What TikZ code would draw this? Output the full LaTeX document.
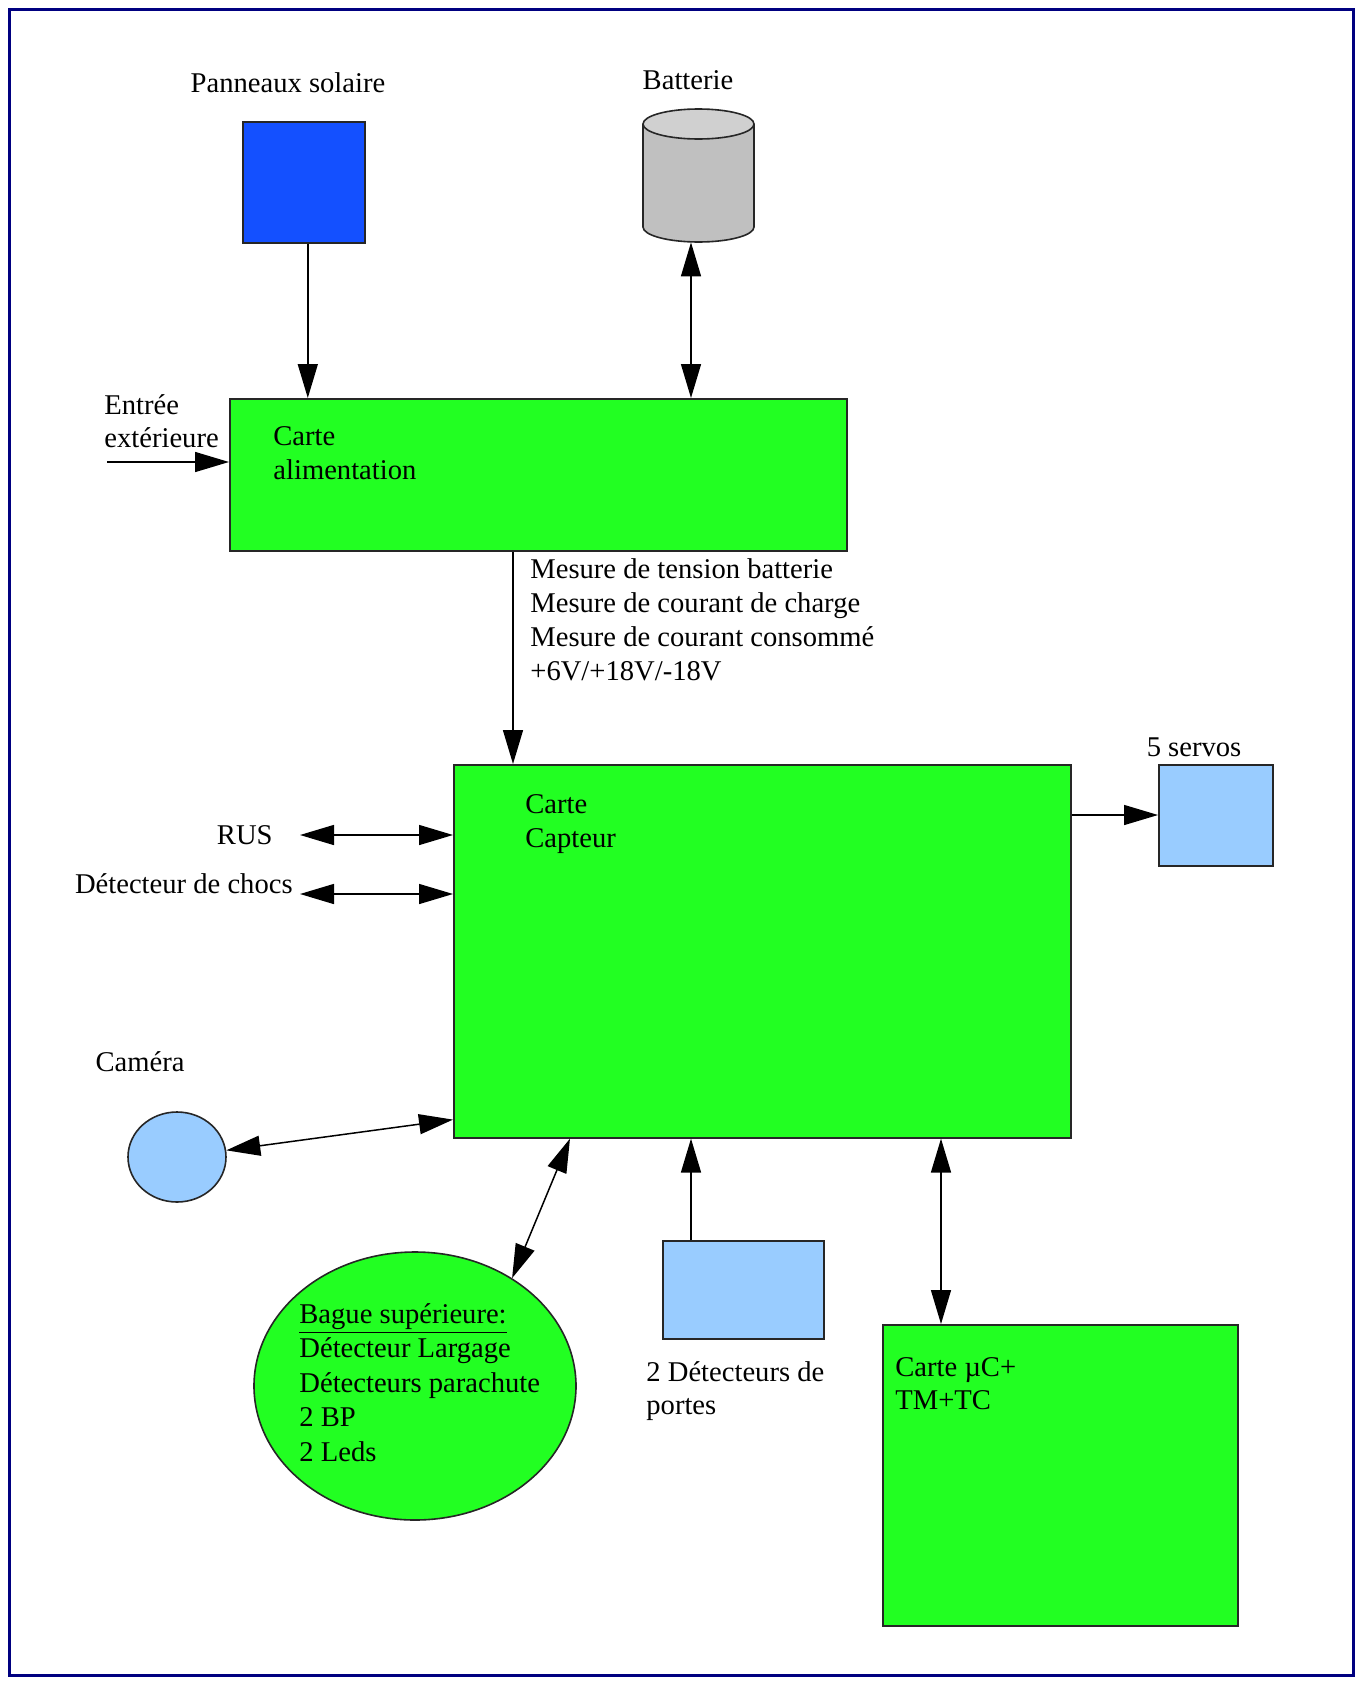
\documentclass[tikz,border=0pt]{standalone}
\usepackage{fontspec}
\setmainfont{Liberation Serif}
\usetikzlibrary{arrows.meta,shapes.geometric}
\definecolor{framenavy}{RGB}{0,0,128}
\definecolor{boardgreen}{RGB}{34,255,34}
\definecolor{panelblue}{RGB}{20,80,255}
\definecolor{paleblue}{RGB}{153,204,255}
\definecolor{cellgray}{RGB}{192,192,192}
\definecolor{celltop}{RGB}{208,208,208}

\begin{document}
\begin{tikzpicture}[x=0.5pt,y=-0.5pt,
  font=\fontsize{14.3}{17}\selectfont,
  board/.style={draw=black!85, line width=0.8pt, fill=boardgreen, inner sep=0, anchor=north west},
  part/.style={draw=black!85, line width=0.8pt, fill=paleblue, inner sep=0, anchor=north west},
  lbl/.style={inner sep=0, align=left},
  block/.style={inner sep=0, align=left, anchor=north west},
  tip/.style={line width=0.75pt, -{Triangle[length=17pt,width=10pt]}},
  bi/.style={line width=0.75pt, {Triangle[length=17pt,width=10pt]}-{Triangle[length=17pt,width=10pt]}},
]
\useasboundingbox (0,0) rectangle (1356,1681);
\fill[white] (0,0) rectangle (1356,1681);
\draw[framenavy, line width=1.5pt] (9,9) rectangle (1353,1675);

% sources: solar panel and battery
\node[lbl] (panlbl) at (288,83) {Panneaux solaire};
\node[board, fill=panelblue, minimum width=61pt, minimum height=60.5pt] (panel) at (242,121) {};

\node[lbl] (battlbl) at (688,80) {Batterie};
\draw[line width=0.8pt, draw=black!85, fill=cellgray] (643,124) -- (643,227)
  arc[start angle=180, end angle=360, x radius=27.75pt, y radius=7.5pt] -- (754,124);
\draw[line width=0.8pt, draw=black!85, fill=celltop] (698.5,124) ellipse[x radius=27.75pt, y radius=7.5pt];
\node[inner sep=0, minimum width=55.5pt, minimum height=66.5pt] (batt) at (698.5,175.5) {};

% power board
\node[board, minimum width=308.5pt, minimum height=76pt] (alim) at (229,398) {};
\node[block] (alimtxt) at (273,426) {Carte\\alimentation};
\node[block, font=\fontsize{14.3}{16.5}\selectfont] (extlbl) at (104,394) {Entrée\\extérieure};
\coordinate (ext) at (107,462);

% sensor board
\node[board, minimum width=308.5pt, minimum height=186.5pt] (capteur) at (453,764) {};
\node[block] (captxt) at (525,794) {Carte\\Capteur};
\node[block] (mesures) at (530,558) {Mesure de tension batterie\\Mesure de courant de charge\\Mesure de courant consommé\\+6V/+18V/-18V};

% servos
\node[lbl] (servolbl) at (1194,747) {5 servos};
\node[part, minimum width=57pt, minimum height=50.5pt] (servos) at (1158,764) {};

% side links
\node[lbl, anchor=east] (rus) at (273,835) {RUS};
\coordinate (rusin) at (300,835);
\node[lbl, anchor=east] (chocs) at (293,884) {Détecteur de chocs};
\coordinate (chocsin) at (300,894);

% camera
\node[lbl] (camlbl) at (140,1062) {Caméra};
\node[ellipse, draw=black!85, line width=0.8pt, fill=paleblue, inner sep=0,
      minimum width=49pt, minimum height=45pt] (cam) at (177,1157) {};

% upper ring
\node[ellipse, draw=black!85, line width=0.8pt, fill=boardgreen, inner sep=0,
      minimum width=161pt, minimum height=134pt] (bague) at (415,1386) {};
\node[block, font=\fontsize{14.3}{17.25}\selectfont] (baguetxt) at (299,1303)
  {\underline{Bague supérieure:}\\Détecteur Largage\\Détecteurs parachute\\2 BP\\2 Leds};

% door detectors
\node[part, minimum width=80.5pt, minimum height=49pt] (portes) at (662,1240) {};
\node[block, font=\fontsize{14.3}{16.5}\selectfont] (porteslbl) at (646,1361) {2 Détecteurs de\\portes};

% microcontroller board
\node[board, minimum width=177.5pt, minimum height=150.5pt] (uc) at (882,1324) {};
\node[block, font=\fontsize{14.3}{16.5}\selectfont] (uctxt) at (895,1357) {Carte µC+\\TM+TC};

% connectors
\draw[tip] ([xshift=2pt]panel.south) -- ([xshift=2pt]panel.south |- alim.north);
\draw[bi] ([xshift=-3.75pt]batt.south) -- ([xshift=-3.75pt]batt.south |- alim.north);
\draw[tip] (ext) -- (ext -| alim.west);
\draw[tip] ([xshift=142pt]alim.south west) -- ([xshift=142pt]alim.south west |- capteur.north);
\draw[tip] ([yshift=-25.5pt]capteur.north east) -- ([yshift=-25.5pt]capteur.north east -| servos.west);
\draw[bi] (rusin) -- (rusin -| capteur.west);
\draw[bi] (chocsin) -- (chocsin -| capteur.west);
\draw[bi] (cam) -- ([yshift=9.5pt]capteur.south west);
\draw[bi] ([xshift=58.5pt]capteur.south west) -- (bague.48);
\draw[tip] ([xshift=14.5pt]portes.north west) -- ([xshift=14.5pt]portes.north west |- capteur.south);
\draw[bi] ([xshift=29.5pt]uc.north west) -- ([xshift=29.5pt]uc.north west |- capteur.south);
\end{tikzpicture}
\end{document}
